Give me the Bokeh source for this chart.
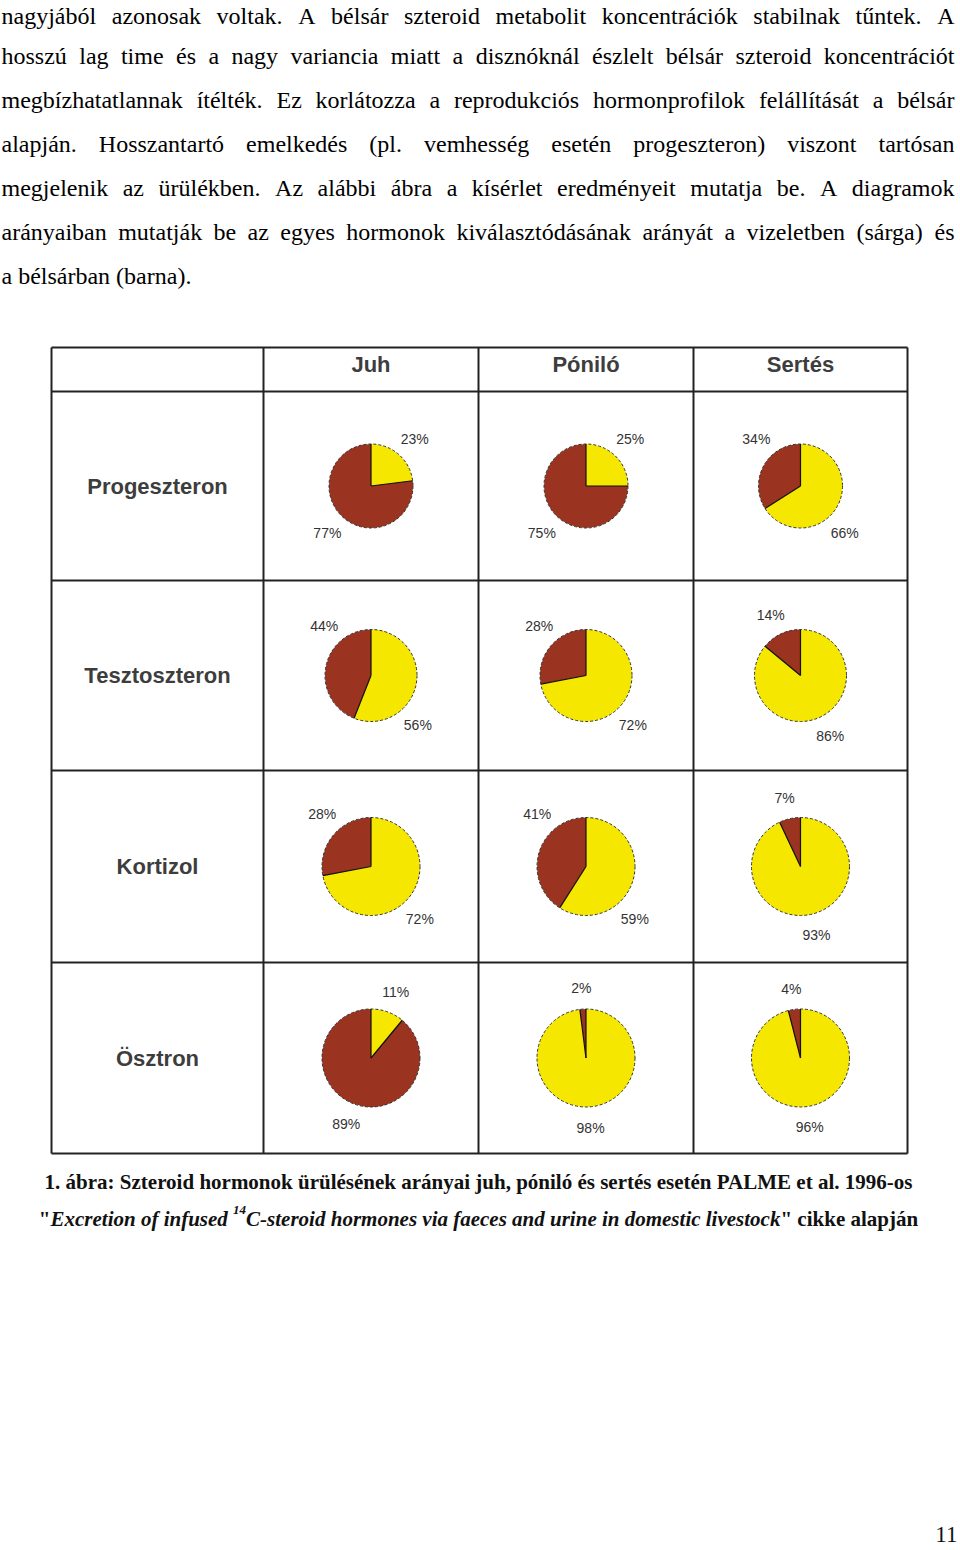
import math
import unicodedata
from bokeh.plotting import figure
from bokeh.models import Range1d, ColumnDataSource
from bokeh.core.properties import value
from bokeh.embed import file_html
from bokeh.resources import INLINE

# ---------------- data ----------------
animals = ["Juh", "Póniló", "Sertés"]
hormones = ["Progeszteron", "Tesztoszteron", "Kortizol", "Ösztron"]
# share excreted via urine (yellow) and via faeces (brown), rows = hormones, cols = animals
urine_pct = [[23, 25, 66], [56, 72, 86], [72, 59, 93], [11, 98, 96]]
faeces_pct = [[77, 75, 34], [44, 28, 14], [28, 41, 7], [89, 2, 4]]

paragraph_lines = [
    "nagyjából azonosak voltak. A bélsár szteroid metabolit koncentrációk stabilnak tűntek. A",
    "hosszú lag time és a nagy variancia miatt a disznóknál észlelt bélsár szteroid koncentrációt",
    "megbízhatatlannak ítélték. Ez korlátozza a reprodukciós hormonprofilok felállítását a bélsár",
    "alapján. Hosszantartó emelkedés (pl. vemhesség esetén progeszteron) viszont tartósan",
    "megjelenik az ürülékben. Az alábbi ábra a kísérlet eredményeit mutatja be. A diagramok",
    "arányaiban mutatják be az egyes hormonok kiválasztódásának arányát a vizeletben (sárga) és",
    "a bélsárban (barna).",
]
caption_line1 = "1. ábra: Szteroid hormonok ürülésének arányai juh, póniló és sertés esetén PALME et al. 1996-os"
caption_line2_parts = [
    ('"', "bold"),
    ("Excretion of infused ", "bold italic"),
    ("14", "sup"),
    ("C-steroid hormones via faeces and urine in domestic livestock", "bold italic"),
    ('"', "bold"),
    (" cikke alapján", "bold"),
]
page_number = "11"

# ---------------- layout / style ----------------
W, H = 960, 1550
COL_X = [51, 263, 478, 693, 907]
ROW_Y = [347, 391, 580, 770, 962, 1153]
PIE_R = [42, 46, 49, 49]
YELLOW = "#f5e700"
BROWN = "#9a331f"
LINE_COL = "#222222"
TABLE_TXT = "#3d3d3d"
PARA_SIZE = 24
PARA_BASE = [23, 63, 107, 151, 195, 239, 283]
PARA_RIGHT = 953
CAP_SIZE = 21
CAP_BASE = [1189, 1226]
CAP_CX = 478
BASE_FIX = 8      # renderer draws alphabetic baselines this much lower
LABEL_MAX_TILT = 42  # pie labels kept within this angle of the vertical


def Y(v):
    return H - v


def YB(v):
    return H - (v - BASE_FIX)


# Times metrics (Liberation Serif is metric compatible)
TR = dict(zip("abcdefghijklmnopqrstuvwxyz",
              [444, 500, 444, 500, 444, 333, 500, 500, 278, 278, 500, 278, 778, 500, 500, 500, 500, 333, 389, 278, 500, 500, 722, 500, 500, 444]))
TR.update(dict(zip("ABCDEFGHIJKLMNOPQRSTUVWXYZ",
                   [722, 667, 667, 722, 611, 556, 722, 722, 333, 389, 722, 611, 889, 722, 722, 556, 722, 667, 556, 611, 722, 722, 944, 722, 722, 611])))
TR.update({" ": 250, ".": 250, ",": 250, "(": 333, ")": 333, "-": 333, ":": 278, '"': 408})
TB = dict(zip("abcdefghijklmnopqrstuvwxyz",
              [500, 556, 444, 556, 444, 333, 500, 556, 278, 333, 556, 278, 833, 556, 500, 556, 556, 444, 389, 333, 556, 500, 722, 500, 500, 444]))
TB.update(dict(zip("ABCDEFGHIJKLMNOPQRSTUVWXYZ",
                   [722, 667, 722, 722, 667, 611, 778, 778, 389, 500, 778, 667, 944, 722, 778, 611, 778, 722, 556, 667, 722, 722, 1000, 722, 722, 667])))
TB.update({" ": 250, ".": 250, ",": 250, "-": 333, ":": 333, '"': 555})
TBI = dict(zip("abcdefghijklmnopqrstuvwxyz",
               [500, 500, 444, 500, 444, 333, 500, 556, 278, 278, 500, 278, 778, 556, 500, 500, 500, 389, 389, 278, 556, 444, 667, 500, 444, 389]))
TBI.update({"C": 667, "E": 667, " ": 250, "-": 333, '"': 555})


def tw(s, table, size):
    tot = 0
    for c in s:
        b = unicodedata.normalize("NFD", c)[0]
        tot += table.get(b, 500)
    return tot / 1000.0 * size


p = figure(width=W, height=H, x_range=Range1d(0, W), y_range=Range1d(0, H),
           output_backend="svg", toolbar_location=None,
           x_axis_location=None, y_axis_location=None, min_border=0,
           outline_line_color=None, background_fill_color="white",
           border_fill_color="white")
p.grid.visible = False

# ---------------- paragraph (justified word by word) ----------------
px, py, pt = [], [], []
for i, line in enumerate(paragraph_lines):
    words = line.split(" ")
    ws = [tw(w, TR, PARA_SIZE) for w in words]
    if i < len(paragraph_lines) - 1 and len(words) > 1:
        gap = (PARA_RIGHT - sum(ws)) / (len(words) - 1)
    else:
        gap = tw(" ", TR, PARA_SIZE)
    x = 1
    for w, wd in zip(words, ws):
        px.append(x)
        py.append(YB(PARA_BASE[i]))
        pt.append(w)
        x += wd + gap
p.text(x=px, y=py, text=pt, text_font=value("Liberation Serif"), text_font_size=f"{PARA_SIZE}px",
       text_color="#000000", text_baseline="alphabetic", text_align="left")

# ---------------- table grid ----------------
gx0, gy0, gx1, gy1 = [], [], [], []
for xv in COL_X:
    gx0.append(xv); gx1.append(xv); gy0.append(Y(ROW_Y[0])); gy1.append(Y(ROW_Y[-1]))
for yv in ROW_Y:
    gx0.append(COL_X[0]); gx1.append(COL_X[-1]); gy0.append(Y(yv)); gy1.append(Y(yv))
p.segment(x0=gx0, y0=gy0, x1=gx1, y1=gy1, line_color=LINE_COL, line_width=2)

# headers
hx = [(COL_X[j + 1] + COL_X[j + 2]) / 2 for j in range(len(animals))]
p.text(x=hx, y=[YB(ROW_Y[0] + 25)] * len(animals), text=animals,
       text_font=value("Liberation Sans"), text_font_style="bold", text_font_size="22px",
       text_color=TABLE_TXT, text_align="center", text_baseline="alphabetic")

# row labels
rcx = (COL_X[0] + COL_X[1]) / 2
ry = [YB((ROW_Y[i + 1] + ROW_Y[i + 2]) / 2 + 8) for i in range(len(hormones))]
p.text(x=[rcx] * len(hormones), y=ry, text=hormones,
       text_font=value("Liberation Sans"), text_font_style="bold", text_font_size="22px",
       text_color=TABLE_TXT, text_align="center", text_baseline="alphabetic")

# ---------------- pies ----------------
wx, wy, wr, ws_, we, wc = [], [], [], [], [], []
cx_, cy_, cr_ = [], [], []
sx0, sy0, sx1, sy1 = [], [], [], []
lx, ly, lt = [], [], []


def tilt(angle):
    # angle in math degrees; keep label within LABEL_MAX_TILT of vertical axis
    a = (angle + 360) % 360
    up = 90 if a <= 180 else 270
    d = a - up
    d = max(-LABEL_MAX_TILT, min(LABEL_MAX_TILT, d))
    return up + d


for i in range(len(hormones)):
    for j in range(len(animals)):
        cx = (COL_X[j + 1] + COL_X[j + 2]) / 2
        cy = Y((ROW_Y[i + 1] + ROW_Y[i + 2]) / 2)
        r = PIE_R[i]
        u = urine_pct[i][j] / 100.0
        f = faeces_pct[i][j] / 100.0
        # yellow: from 12 o'clock clockwise; brown: the rest
        wx += [cx, cx]; wy += [cy, cy]; wr += [r, r]
        ws_ += [90 - u * 360, 90]
        we += [90, 90 + f * 360]
        wc += [YELLOW, BROWN]
        cx_.append(cx); cy_.append(cy); cr_.append(r)
        for a in (90, 90 - u * 360):
            ar = math.radians(a)
            sx0.append(cx); sy0.append(cy)
            sx1.append(cx + r * math.cos(ar)); sy1.append(cy + r * math.sin(ar))
        # labels
        for pct, mid in ((urine_pct[i][j], 90 - u * 180), (faeces_pct[i][j], 90 + f * 180)):
            mr = math.radians(tilt(mid))
            lx.append(cx + (r + 24) * math.cos(mr))
            ly.append(cy + (r + 21) * math.sin(mr))
            lt.append(f"{pct}%")

wsrc = ColumnDataSource(dict(x=wx, y=wy, r=wr, s=ws_, e=we, c=wc))
p.wedge(x="x", y="y", radius="r", start_angle="s", end_angle="e",
        start_angle_units="deg", end_angle_units="deg",
        fill_color="c", line_color=None, source=wsrc)
p.circle(x=cx_, y=cy_, radius=cr_, fill_color=None, line_color="#333333",
         line_width=1, line_dash="3 2")
p.segment(x0=sx0, y0=sy0, x1=sx1, y1=sy1, line_color="#111111", line_width=1.2)
p.text(x=lx, y=ly, text=lt, text_font=value("Liberation Sans"), text_font_size="14px",
       text_color="#333333", text_align="center", text_baseline="middle")

# ---------------- caption ----------------
p.text(x=[CAP_CX], y=[YB(CAP_BASE[0])], text=[caption_line1],
       text_font=value("Liberation Serif"), text_font_style="bold", text_font_size=f"{CAP_SIZE}px",
       text_color="#111111", text_align="center", text_baseline="alphabetic")

SUP = 13
segs = []
for txt, sty in caption_line2_parts:
    if sty == "sup":
        segs.append((txt, sty, tw(txt, TBI, SUP)))
    elif sty == "bold italic":
        segs.append((txt, sty, tw(txt, TBI, CAP_SIZE)))
    else:
        segs.append((txt, sty, tw(txt, TB, CAP_SIZE)))
total = sum(s[2] for s in segs)
x = CAP_CX - total / 2
for txt, sty, wd in segs:
    lead = len(txt) - len(txt.lstrip(" "))
    table = TB if sty == "bold" else TBI
    size = SUP if sty == "sup" else CAP_SIZE
    xoff = tw(" " * lead, table, size)
    yb = YB(CAP_BASE[1] - 9) if sty == "sup" else YB(CAP_BASE[1])
    fstyle = "bold italic" if sty == "sup" else sty
    p.text(x=[x + xoff], y=[yb], text=[txt.strip(" ")],
           text_font=value("Liberation Serif"), text_font_style=fstyle,
           text_font_size=f"{size}px", text_color="#111111",
           text_align="left", text_baseline="alphabetic")
    x += wd

# page number
p.text(x=[957], y=[YB(1542)], text=[page_number], text_font=value("Liberation Serif"),
       text_font_size="23px", text_color="#111111", text_align="right", text_baseline="alphabetic")

open("out.html", "w").write(file_html(p, INLINE))
